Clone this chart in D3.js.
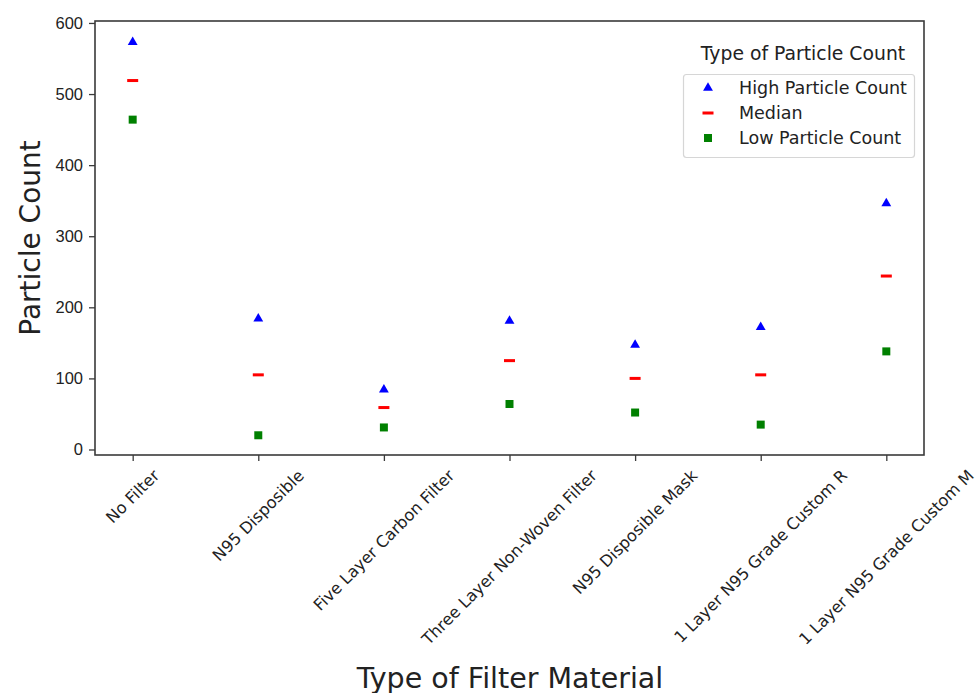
<!DOCTYPE html>
<html>
<head>
<meta charset="utf-8">
<script src="https://cdn.jsdelivr.net/npm/d3@7"></script>
<style>
  body { margin: 0; background: #fff; }
  svg { display: block; font-family: 'DejaVu Sans', sans-serif; }
</style>
</head>
<body>
<div class="visContainer"></div>
<script>
const w = 978;
const h = 693;

// data
const categories = [
	'No Filter',
	'N95 Disposible',
	'Five Layer Carbon Filter',
	'Three Layer Non-Woven Filter',
	'N95 Disposible Mask',
	'1 Layer N95 Grade Custom R',
	'1 Layer N95 Grade Custom M'
];
const highCount = [573, 184, 84, 181, 147, 172, 346];
const medianCount = [519, 105, 59, 125, 100, 105, 244];
const lowCount = [464, 20, 31, 64, 52, 35, 138];
const yTicks = [0, 100, 200, 300, 400, 500, 600];
const seriesNames = ['High Particle Count', 'Median', 'Low Particle Count'];

const plotLeft = 95, plotRight = 924, plotTop = 21, plotBottom = 455;
const textColor = '#222';
const spineColor = '#3a3a3a';

const svg = d3
	.select('.visContainer')
	.append('svg')
	.attr('width', w)
	.attr('height', h);

const xScale = d3.scalePoint().domain(categories).range([plotLeft, plotRight]).padding(0.3);
const yScale = d3.scaleLinear().domain([-7.75, 602.75]).range([plotBottom, plotTop]);

// y axis
const yAxisGroup = svg
	.append('g')
	.attr('transform', `translate(${plotLeft}, 0)`)
	.call(d3.axisLeft(yScale).tickValues(yTicks).tickSize(6).tickPadding(6));
yAxisGroup.select('.domain').remove();
yAxisGroup.selectAll('line').attr('stroke', spineColor).attr('stroke-width', 1.3);
yAxisGroup.selectAll('text')
	.attr('fill', textColor)
	.style('font-size', '16.5px');

// x axis (labels rotated by hand below)
const xAxisGroup = svg
	.append('g')
	.attr('transform', `translate(0, ${plotBottom})`)
	.call(d3.axisBottom(xScale).tickSize(6).tickFormat(''));
xAxisGroup.select('.domain').remove();
xAxisGroup.selectAll('line').attr('stroke', spineColor).attr('stroke-width', 1.3);

const labelTop = 467;
const labelSize = 16.2;
categories.forEach((c) => {
	const t = svg.append('text')
		.attr('text-anchor', 'middle')
		.attr('dominant-baseline', 'central')
		.attr('fill', textColor)
		.style('font-size', labelSize + 'px')
		.text(c);
	const len = t.node().getComputedTextLength();
	const off = (len + labelSize) / (2 * Math.SQRT2);
	t.attr('transform', `translate(${xScale(c)}, ${labelTop + off}) rotate(-45)`);
});

// frame
svg.append('rect')
	.attr('x', plotLeft)
	.attr('y', plotTop)
	.attr('width', plotRight - plotLeft)
	.attr('height', plotBottom - plotTop)
	.attr('fill', 'none')
	.attr('stroke', spineColor)
	.attr('stroke-width', 1.6);

// axis titles
svg.append('text')
	.attr('transform', `translate(510, 678)`)
	.attr('text-anchor', 'middle')
	.attr('dominant-baseline', 'central')
	.attr('fill', textColor)
	.style('font-size', '28.5px')
	.text('Type of Filter Material');

svg.append('text')
	.attr('transform', 'translate(30, 238) rotate(-90)')
	.attr('text-anchor', 'middle')
	.attr('dominant-baseline', 'central')
	.attr('fill', textColor)
	.style('font-size', '28px')
	.text('Particle Count');

// markers
const triangle = d3.symbol().type(d3.symbolTriangle).size(42);
const square = d3.symbol().type(d3.symbolSquare).size(64);

svg.append('g')
	.selectAll('path')
	.data(highCount)
	.enter()
	.append('path')
	.attr('d', triangle)
	.attr('transform', (d, i) => `translate(${xScale(categories[i])}, ${yScale(d)})`)
	.style('fill', '#0000ff');

svg.append('g')
	.selectAll('rect')
	.data(medianCount)
	.enter()
	.append('rect')
	.attr('x', (d, i) => xScale(categories[i]) - 5.5)
	.attr('y', (d) => yScale(d) - 1.5)
	.attr('width', 11)
	.attr('height', 3)
	.style('fill', '#ff0000');

svg.append('g')
	.selectAll('path')
	.data(lowCount)
	.enter()
	.append('path')
	.attr('d', square)
	.attr('transform', (d, i) => `translate(${xScale(categories[i])}, ${yScale(d)})`)
	.style('fill', '#008000');

// legend
const legend = svg.append('g');
legend.append('text')
	.attr('x', 803)
	.attr('y', 53)
	.attr('text-anchor', 'middle')
	.attr('dominant-baseline', 'central')
	.attr('fill', textColor)
	.style('font-size', '18.8px')
	.text('Type of Particle Count');

legend.append('rect')
	.attr('x', 683.5)
	.attr('y', 74.5)
	.attr('width', 231)
	.attr('height', 83)
	.attr('rx', 3)
	.attr('fill', '#fff')
	.attr('stroke', '#d6d6d6')
	.attr('stroke-width', 1.2);

const rowY = [88, 113, 138];
seriesNames.forEach((name, i) => {
	const g = legend.append('g').attr('transform', `translate(708, ${rowY[i]})`);
	if (i === 0) {
		g.append('path').attr('d', triangle).style('fill', '#0000ff');
	} else if (i === 1) {
		g.append('rect').attr('x', -5.5).attr('y', -1.5).attr('width', 11).attr('height', 3).style('fill', '#ff0000');
	} else {
		g.append('path').attr('d', square).style('fill', '#008000');
	}
	legend.append('text')
		.attr('x', 739)
		.attr('y', rowY[i])
		.attr('dominant-baseline', 'central')
		.attr('fill', textColor)
		.style('font-size', '17.5px')
		.text(name);
});
</script>
</body>
</html>
